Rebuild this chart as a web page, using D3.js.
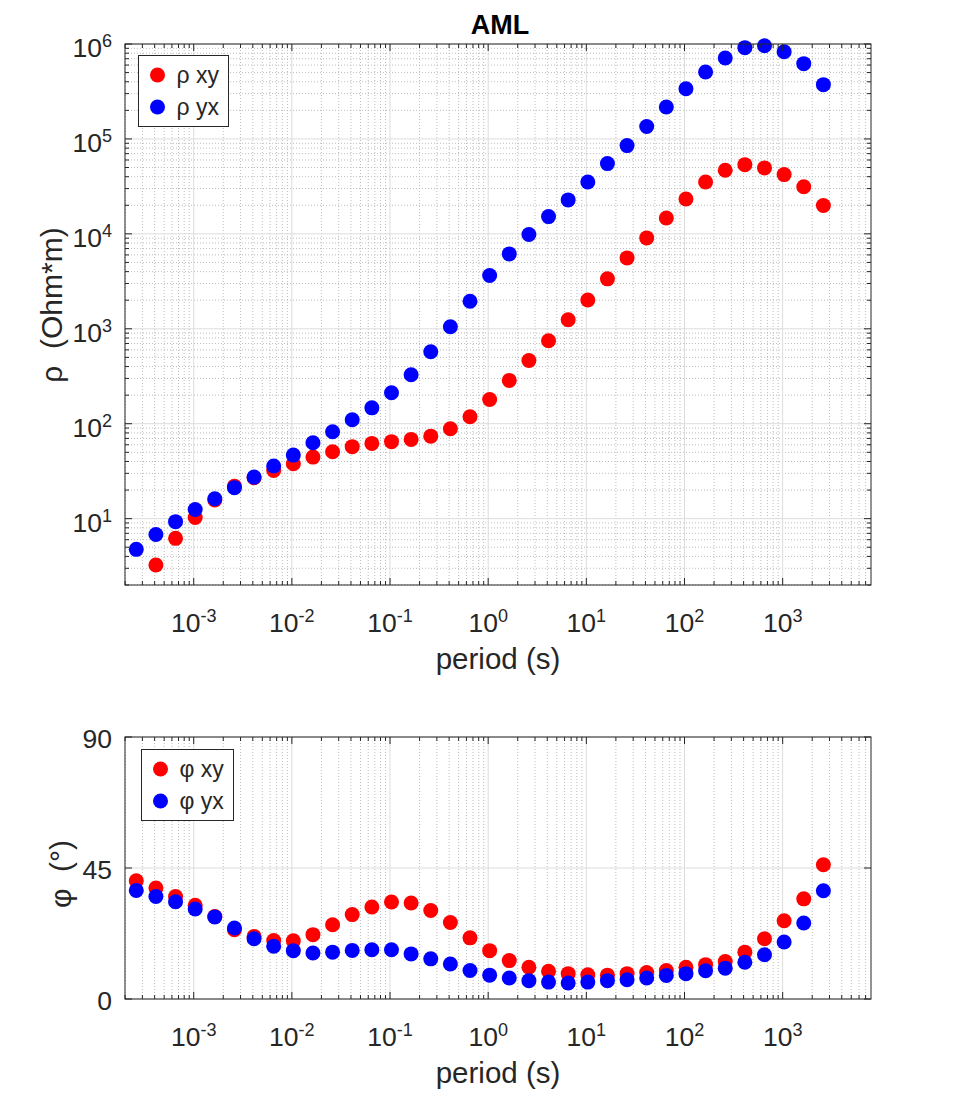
<!DOCTYPE html>
<html>
<head>
<meta charset="utf-8">
<script src="https://cdn.jsdelivr.net/npm/d3@7"></script>
<style>
  body { margin: 0; background: #fff; }
  text { font-family: "Liberation Sans", Arial, sans-serif; fill: #262626; }
</style>
</head>
<body>
<div id="chart"></div>
<script>
// periods (s)
var periods = [2.6e-4, 4.12e-4, 6.53e-4, 1.035e-3, 1.64e-3, 2.6e-3, 4.12e-3, 6.53e-3,
  1.035e-2, 1.64e-2, 2.6e-2, 4.12e-2, 6.53e-2, 0.1035, 0.164, 0.26, 0.412, 0.653,
  1.035, 1.64, 2.6, 4.12, 6.53, 10.35, 16.4, 26, 41.2, 65.3, 103.5, 164, 260, 412,
  653, 1035, 1640, 2600];

// apparent resistivity (Ohm*m)
var rhoXY = [null, 3.25, 6.2, 10.3, 15.7, 22.0, 27.0, 32.2, 37.9, 44.5, 50.7, 57.3,
  62, 64.7, 68.4, 74, 88.6, 118.5, 180, 286, 464, 748, 1245, 2010, 3360, 5580, 9070,
  14700, 23300, 35200, 46700, 53600, 49500, 42100, 31300, 19900];
var rhoYX = [4.75, 6.8, 9.3, 12.5, 16.2, 21.2, 27.4, 35.8, 46.7, 63, 82.4, 110, 147,
  212, 328, 573, 1050, 1950, 3640, 6150, 9840, 15200, 22800, 35200, 55000, 85100,
  135000, 217000, 338000, 507000, 713000, 915000, 960000, 830000, 621000, 373000];

// phase (deg)
var phiXY = [40.6, 38.1, 35.2, 32.2, 28.3, 23.8, 21.5, 20.1, 20.0, 22.1, 25.5, 29.0,
  31.6, 33.3, 33.0, 30.4, 26.3, 21.0, 16.6, 13.2, 10.9, 9.5, 8.7, 8.3, 8.2, 8.7, 9.1,
  9.8, 10.9, 11.8, 12.9, 16.1, 20.7, 26.9, 34.4, 46.1];
var phiYX = [37.3, 35.2, 33.4, 30.9, 28.2, 24.4, 20.7, 18.1, 16.6, 15.8, 16.1, 16.7,
  16.9, 16.9, 15.5, 13.8, 12.0, 9.8, 8.2, 7.2, 6.3, 5.8, 5.5, 5.8, 6.3, 6.6, 7.2, 8.1,
  8.7, 9.7, 10.6, 12.6, 15.2, 19.6, 26.1, 37.2];

var xDomain = [Math.pow(10, -3.7), Math.pow(10, 3.9)];
var xMajor = [1e-3, 1e-2, 1e-1, 1, 10, 100, 1000];
var rhoMajor = [10, 100, 1000, 1e4, 1e5, 1e6];
var phiTicks = [0, 45, 90];

var W = 962, H = 1101;
var left = 125, right = 871;
var fontSize = 26.5;

var svg = d3.select("#chart").append("svg")
  .attr("width", W).attr("height", H)
  .style("background", "#fff");

var x = d3.scaleLog().domain(xDomain).range([left, right]);

function isMajor(v) {
  var l = Math.log10(v);
  return Math.abs(l - Math.round(l)) < 1e-6;
}

// exponent label 10^n
function powLabel(sel, v) {
  var e = Math.round(Math.log10(v));
  sel.append("tspan").text("10");
  sel.append("tspan").attr("dy", "-0.55em").attr("font-size", "0.68em").text(e);
}

function drawPanel(cfg) {
  var y = cfg.y;
  var top = y.range()[1], bottom = y.range()[0];
  var g = svg.append("g");

  var xMinor = x.ticks().filter(function(d) { return !isMajor(d); });

  // minor grid
  g.selectAll(".xminor").data(xMinor).enter().append("line")
    .attr("x1", d => x(d)).attr("x2", d => x(d))
    .attr("y1", top).attr("y2", bottom)
    .attr("stroke", "#bdbdbd").attr("stroke-dasharray", "1,2");
  if (cfg.yMinor) {
    g.selectAll(".yminor").data(cfg.yMinor).enter().append("line")
      .attr("x1", left).attr("x2", right)
      .attr("y1", d => y(d)).attr("y2", d => y(d))
      .attr("stroke", "#bdbdbd").attr("stroke-dasharray", "1,2");
  }
  // major grid
  g.selectAll(".xmajor").data(xMajor).enter().append("line")
    .attr("x1", d => x(d)).attr("x2", d => x(d))
    .attr("y1", top).attr("y2", bottom)
    .attr("stroke", "#dcdcdc");
  g.selectAll(".ymajor").data(cfg.yMajor).enter().append("line")
    .attr("x1", left).attr("x2", right)
    .attr("y1", d => y(d)).attr("y2", d => y(d))
    .attr("stroke", "#dcdcdc");

  // data: red first, blue on top
  cfg.series.forEach(function(s) {
    g.selectAll(null).data(s.values.map((v, i) => [periods[i], v]).filter(d => d[1] != null))
      .enter().append("circle")
      .attr("cx", d => x(d[0])).attr("cy", d => y(d[1]))
      .attr("r", 7.5).attr("fill", s.color);
  });

  // ticks (inside, all four sides)
  var tc = "#262626";
  xMinor.forEach(function(d) {
    g.append("line").attr("x1", x(d)).attr("x2", x(d)).attr("y1", bottom).attr("y2", bottom - 4).attr("stroke", tc);
    g.append("line").attr("x1", x(d)).attr("x2", x(d)).attr("y1", top).attr("y2", top + 4).attr("stroke", tc);
  });
  xMajor.forEach(function(d) {
    g.append("line").attr("x1", x(d)).attr("x2", x(d)).attr("y1", bottom).attr("y2", bottom - 7).attr("stroke", tc);
    g.append("line").attr("x1", x(d)).attr("x2", x(d)).attr("y1", top).attr("y2", top + 7).attr("stroke", tc);
  });
  (cfg.yMinor || []).forEach(function(d) {
    g.append("line").attr("x1", left).attr("x2", left + 4).attr("y1", y(d)).attr("y2", y(d)).attr("stroke", tc);
    g.append("line").attr("x1", right).attr("x2", right - 4).attr("y1", y(d)).attr("y2", y(d)).attr("stroke", tc);
  });
  cfg.yMajor.forEach(function(d) {
    g.append("line").attr("x1", left).attr("x2", left + 7).attr("y1", y(d)).attr("y2", y(d)).attr("stroke", tc);
    g.append("line").attr("x1", right).attr("x2", right - 7).attr("y1", y(d)).attr("y2", y(d)).attr("stroke", tc);
  });

  // frame
  g.append("rect").attr("x", left).attr("y", top)
    .attr("width", right - left).attr("height", bottom - top)
    .attr("fill", "none").attr("stroke", tc).attr("stroke-width", 1);

  // x tick labels
  xMajor.forEach(function(d) {
    var t = g.append("text").attr("x", x(d)).attr("y", bottom + 47)
      .attr("text-anchor", "middle").attr("font-size", fontSize);
    powLabel(t, d);
  });
  // y tick labels
  cfg.yMajor.forEach(function(d) {
    var t = g.append("text").attr("x", left - 13).attr("y", y(d) + cfg.yLabelDy)
      .attr("text-anchor", "end").attr("font-size", fontSize);
    if (cfg.logY) powLabel(t, d); else t.text(d);
  });

  // axis labels
  g.append("text").attr("x", (left + right) / 2).attr("y", bottom + 84)
    .attr("text-anchor", "middle").attr("font-size", 29.5).text("period (s)");
  g.append("text")
    .attr("transform", "translate(" + cfg.yTitleX + "," + cfg.yTitleY + ") rotate(-90)")
    .attr("text-anchor", "middle").attr("font-size", 30)
    .style("white-space", "pre")
    .text(cfg.yTitle);

  // legend
  var lg = g.append("g").attr("transform", "translate(" + cfg.legend[0] + "," + cfg.legend[1] + ")");
  lg.append("rect").attr("width", cfg.legend[2]).attr("height", 71)
    .attr("fill", "#fff").attr("stroke", tc);
  cfg.series.forEach(function(s, i) {
    lg.append("circle").attr("cx", 19).attr("cy", 19.5 + i * 32).attr("r", 7.5).attr("fill", s.color);
    lg.append("text").attr("x", 38).attr("y", 27.5 + i * 32)
      .attr("font-size", 23).attr("fill", "#000").text(s.name);
  });
}

var yRho = d3.scaleLog().domain([2, 1e6]).range([585, 44]);
drawPanel({
  y: yRho,
  logY: true,
  yMajor: rhoMajor,
  yMinor: yRho.ticks().filter(d => !isMajor(d)),
  yLabelDy: 13,
  yTitle: "\u03c1\u00a0 (Ohm*m)",
  yTitleX: 62, yTitleY: 305,
  legend: [138.5, 55.5, 90],
  series: [
    { name: "\u03c1 xy", values: rhoXY, color: "#ff0000" },
    { name: "\u03c1 yx", values: rhoYX, color: "#0000ff" }
  ]
});

var yPhi = d3.scaleLinear().domain([0, 90]).range([999, 737]);
drawPanel({
  y: yPhi,
  logY: false,
  yMajor: phiTicks,
  yMinor: null,
  yLabelDy: 11,
  yTitle: "\u03c6\u00a0 (\u00b0)",
  yTitleX: 71, yTitleY: 874,
  legend: [141.5, 749.5, 92],
  series: [
    { name: "\u03c6 xy", values: phiXY, color: "#ff0000" },
    { name: "\u03c6 yx", values: phiYX, color: "#0000ff" }
  ]
});

// title
svg.append("text").attr("x", 500).attr("y", 34)
  .attr("text-anchor", "middle").attr("font-size", 27).attr("font-weight", "bold")
  .style("fill", "#000").text("AML");
</script>
</body>
</html>
